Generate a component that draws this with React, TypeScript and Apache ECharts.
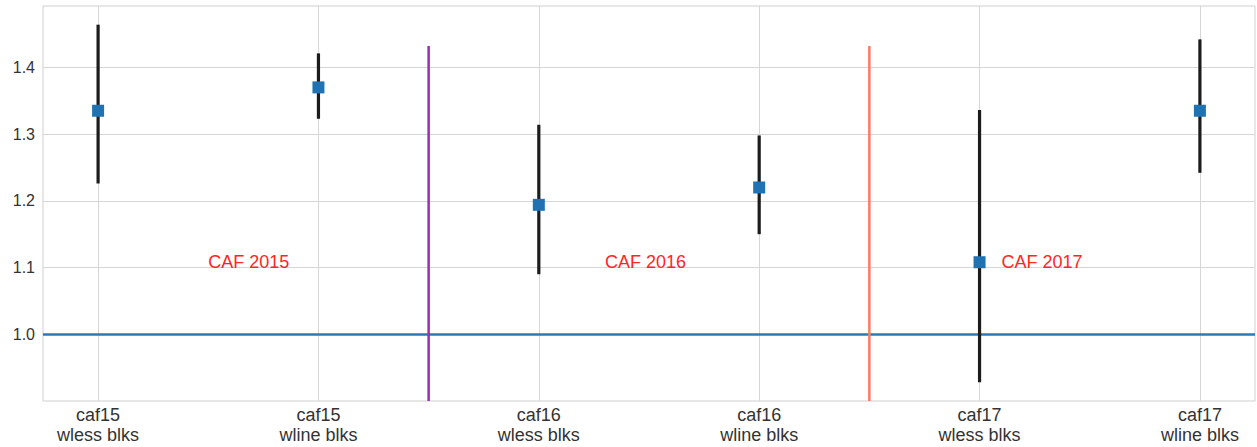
import React, { useEffect, useRef } from "react";
import * as echarts from "echarts";

const categories = [
  "caf15\nwless blks",
  "caf15\nwline blks",
  "caf16\nwless blks",
  "caf16\nwline blks",
  "caf17\nwless blks",
  "caf17\nwline blks",
];
const means = [1.335, 1.37, 1.194, 1.22, 1.108, 1.335];
const lower = [1.226, 1.323, 1.09, 1.15, 0.928, 1.242];
const upper = [1.464, 1.421, 1.314, 1.298, 1.336, 1.442];
const dividerX = [1.5, 3.5];
const dividerTop = 1.432;
const dividerColors = ["#9a2fad", "#fb7b62"];
const annotationLabels = ["CAF 2015", "CAF 2016", "CAF 2017"];
const annotationX = [0.5, 2.3, 4.1];
const annotationY = [1.1, 1.1, 1.1];
const referenceY = 1.0;
const yTicks = [1.0, 1.1, 1.2, 1.3, 1.4];

const FONT = "'Liberation Sans', Arial, sans-serif";

export default function App() {
  const ref = useRef<HTMLDivElement>(null);
  useEffect(() => {
    if (!ref.current) return;
    const chart = echarts.init(ref.current, undefined, { renderer: "svg" });
    const yMin = 0.9;
    const yMax = 1.492;
    chart.setOption({
      animation: false,
      grid: {
        left: 43,
        right: 2,
        top: 6,
        bottom: 46,
        show: true,
        borderColor: "#cfcfcf",
        borderWidth: 1,
        containLabel: false,
      },
      xAxis: {
        type: "value",
        min: -0.25,
        max: 5.25,
        axisLine: { show: false },
        axisTick: { show: false },
        splitLine: { show: false },
        axisLabel: {
          customValues: categories.map((_, i) => i),
          formatter: (v: number) => categories[Math.round(v)] ?? "",
          color: "#333",
          fontSize: 18,
          lineHeight: 20,
          fontFamily: FONT,
          margin: 4,
        },
      },
      yAxis: {
        type: "value",
        min: yMin,
        max: yMax,
        axisLine: { show: false },
        axisTick: { show: false },
        splitLine: { show: false },
        axisLabel: {
          customValues: yTicks,
          formatter: (v: number) => v.toFixed(1),
          color: "#333",
          fontSize: 16,
          fontFamily: FONT,
          margin: 8,
        },
      },
      series: [
        {
          type: "line",
          data: [],
          z: 1,
          markLine: {
            z: 1,
            silent: true,
            symbol: "none",
            label: { show: false },
            lineStyle: { color: "#d6d6d6", width: 1, type: "solid" },
            data: [
              ...categories.map((_, i) => ({ xAxis: i })),
              ...yTicks.map((v) => ({ yAxis: v })),
            ],
          },
        },
        {
          type: "line",
          data: [],
          z: 2,
          markLine: {
            z: 2,
            silent: true,
            symbol: "none",
            label: { show: false },
            lineStyle: { color: "#2a7ab8", width: 2.5, type: "solid" },
            data: [{ yAxis: referenceY }],
          },
        },
        {
          type: "custom",
          z: 3,
          data: categories.map((_, i) => [i, lower[i], upper[i]]),
          encode: { x: 0, y: [1, 2] },
          renderItem: (params: any, api: any) => {
            const x = api.value(0);
            const p1 = api.coord([x, api.value(1)]);
            const p2 = api.coord([x, api.value(2)]);
            return {
              type: "line",
              shape: { x1: p1[0], y1: p1[1], x2: p2[0], y2: p2[1] },
              style: { stroke: "#1c1c1c", lineWidth: 3.2 },
            };
          },
        },
        {
          type: "scatter",
          z: 4,
          symbol: "rect",
          symbolSize: 12,
          itemStyle: { color: "#1f73b3", opacity: 1 },
          data: means.map((m, i) => [i, m]),
        },
        {
          type: "custom",
          z: 5,
          data: dividerX.map((x) => [x, yMin, dividerTop]),
          encode: { x: 0, y: [1, 2] },
          renderItem: (params: any, api: any) => {
            const x = api.value(0);
            const p1 = api.coord([x, api.value(1)]);
            const p2 = api.coord([x, api.value(2)]);
            return {
              type: "line",
              shape: { x1: p1[0], y1: p1[1], x2: p2[0], y2: p2[1] },
              style: { stroke: dividerColors[params.dataIndex], lineWidth: 2.5 },
            };
          },
        },
        {
          type: "custom",
          z: 6,
          data: annotationX.map((x, i) => [x, annotationY[i]]),
          encode: { x: 0, y: 1 },
          renderItem: (params: any, api: any) => {
            const p = api.coord([api.value(0), api.value(1)]);
            return {
              type: "text",
              x: p[0],
              y: p[1] + 3,
              style: {
                text: annotationLabels[params.dataIndex],
                fill: "#ff2525",
                fontSize: 18,
                fontFamily: FONT,
                align: "left",
                verticalAlign: "bottom",
              },
            };
          },
        },
      ],
    });
    return () => chart.dispose();
  }, []);
  return (
    <div
      ref={ref}
      style={{ position: "fixed", left: 0, top: 0, width: 1257, height: 447, background: "#fff" }}
    />
  );
}
